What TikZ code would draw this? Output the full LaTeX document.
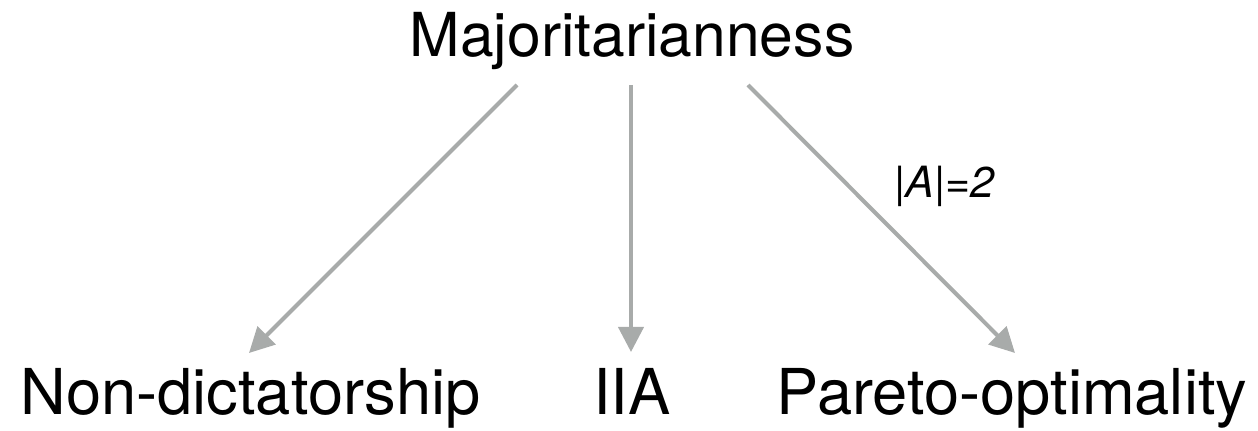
\documentclass[tikz,border=0pt]{standalone}
\usepackage{fontspec}
\setmainfont{TeX Gyre Heros}
\usetikzlibrary{arrows.meta, calc}

\definecolor{arrowgray}{RGB}{168,171,170}

\tikzset{
  prop/.style={inner sep=0pt, anchor=base, font=\fontsize{36pt}{42pt}\selectfont},
  top prop/.style={prop, font=\fontsize{34.5pt}{40pt}\selectfont},
  cond/.style={inner sep=0pt, anchor=base west, font=\fontsize{24.5pt}{28pt}\selectfont\itshape},
  impl/.style={draw=arrowgray, line width=2.3pt, -{Triangle[length=0.5cm, width=0.5cm]}}
}

\begin{document}
\begin{tikzpicture}[x=0.02cm, y=-0.02cm]
        \useasboundingbox (0,0) rectangle (1258,431);
        \node[top prop] (maj) at (632,57) {Majoritarianness};
        \node[prop] (nd) at (250.5,415) {Non-dictatorship};
        \node[prop] (iia) at (632,415) {IIA};
        \node[prop] (po) at (1012,415) {Pareto-optimality};

        \draw[impl] ([shift={(-115,28)}]maj.base) -- ([shift={(-1.5,-62)}]nd.base);
        \draw[impl] ([shift={(-1,28)}]maj.base) -- ([shift={(-1,-63)}]iia.base);
        \draw[impl] ([shift={(116,28)}]maj.base) -- node[cond, pos=0.418, xshift=0.66cm] {|A|=2} ([shift={(3,-62)}]po.base);
        % \draw[impl] (nd) -- (iia);
\end{tikzpicture}
\end{document}
